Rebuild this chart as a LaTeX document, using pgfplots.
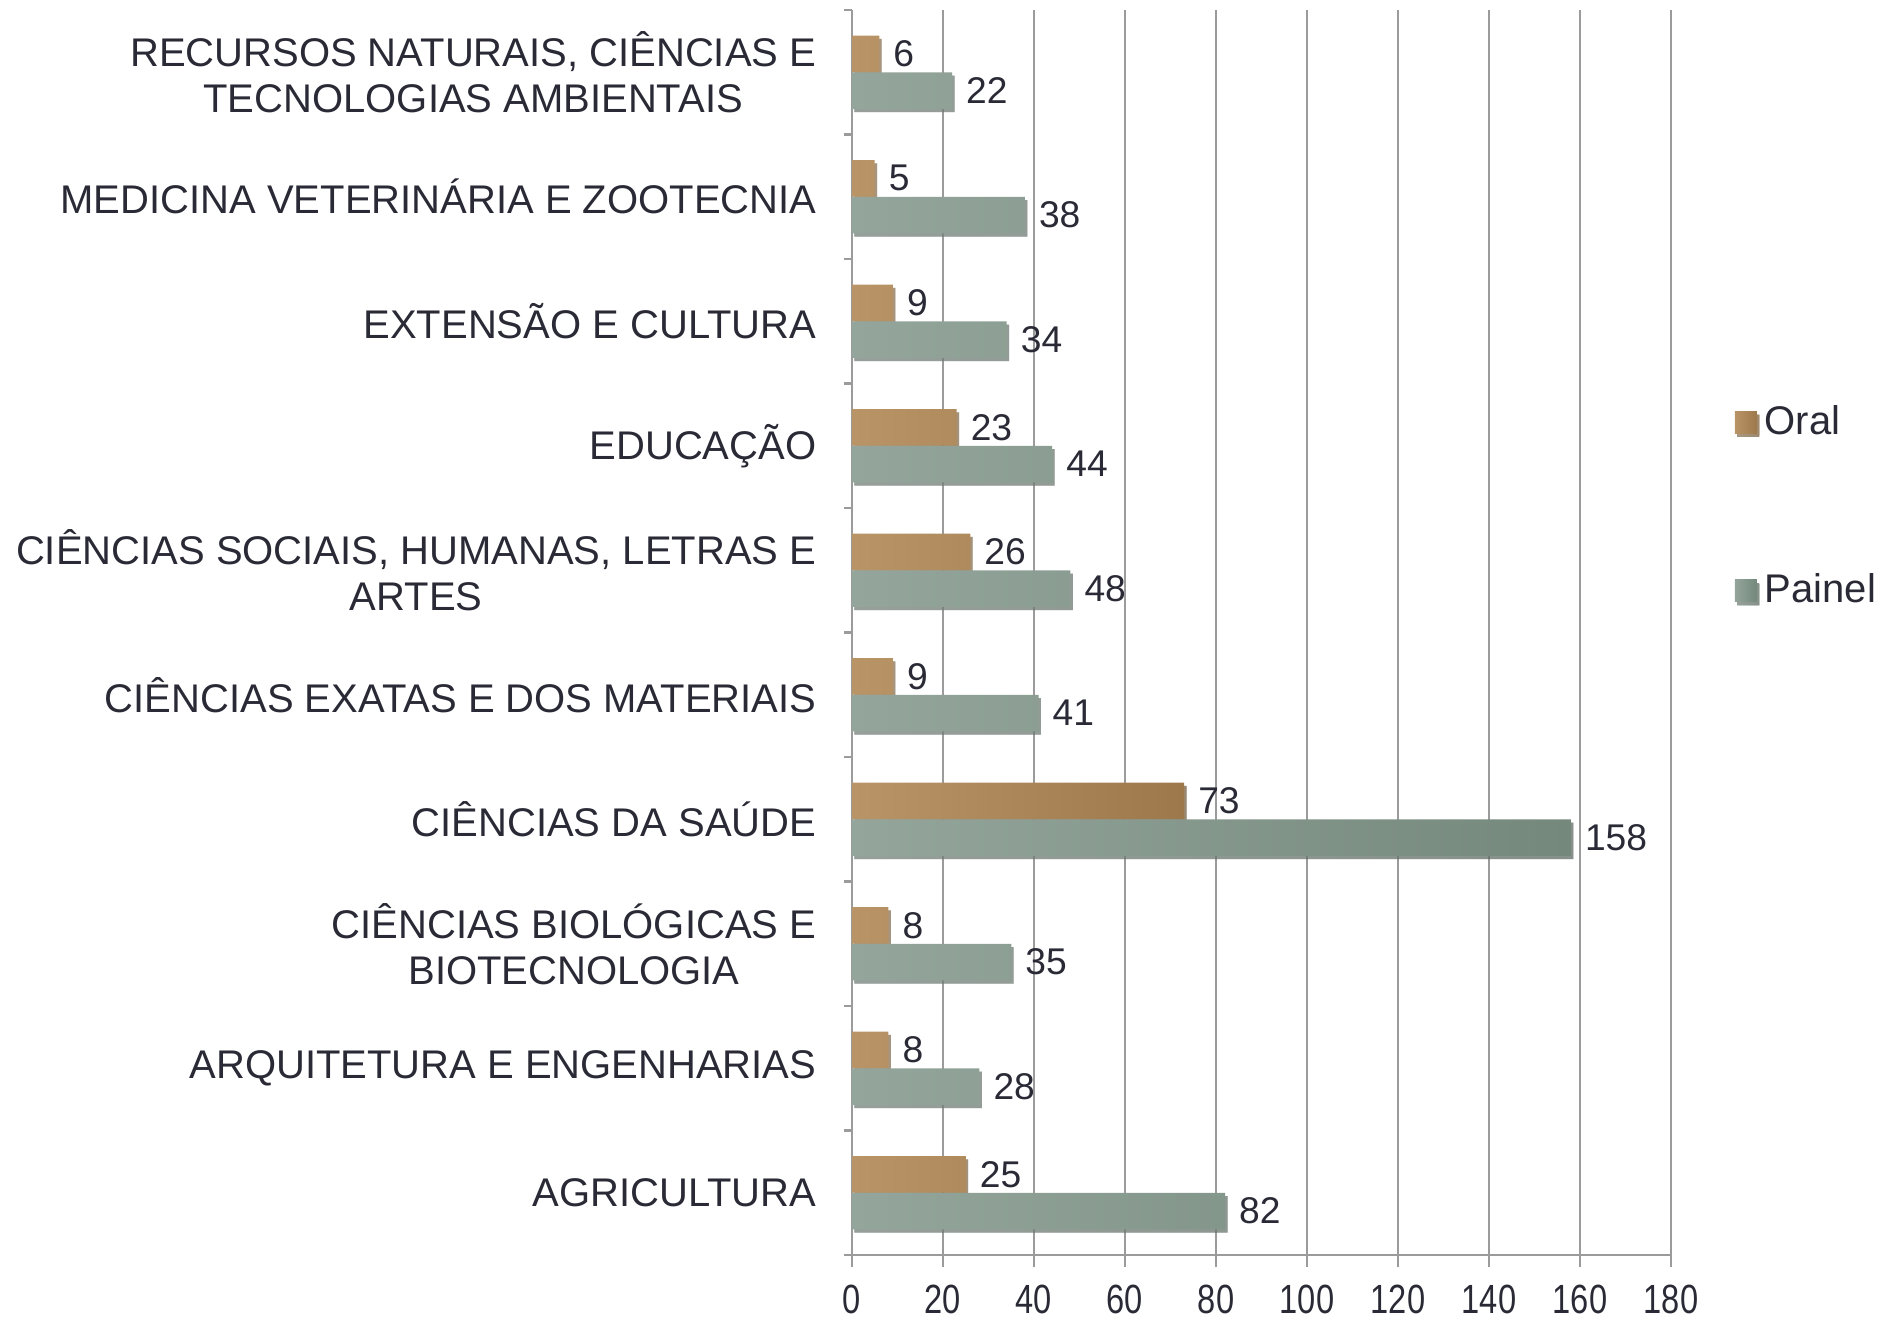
\documentclass[border=0pt]{standalone}
\usepackage{fontspec}
\setmainfont{Liberation Sans}
\newfontfamily\narrowfont[FakeStretch=0.8]{Liberation Sans}
\usepackage{pgfplots}
\pgfplotsset{compat=1.18}
\usetikzlibrary{shadows}
\definecolor{OralL}{RGB}{184,148,102}
\definecolor{OralR}{RGB}{156,120,74}
\definecolor{PainelL}{RGB}{148,166,155}
\definecolor{PainelR}{RGB}{117,136,124}
\definecolor{TextCol}{RGB}{42,42,54}
\definecolor{GridCol}{RGB}{155,155,155}

\begin{document}
\begin{tikzpicture}
\begin{axis}[
  scale only axis, width=204.75pt, height=311.25pt,
  /pgf/number format/assume math mode=true,
  xbar, xmin=0, xmax=180, ymin=-0.5, ymax=9.5,
  axis lines*=left,
  axis line style={GridCol, line width=0.6pt},
  xtick={0,20,...,180},
  xmajorgrids, grid style={GridCol, line width=0.6pt},
  tick align=outside,
  major x tick style={GridCol, line width=0.6pt},
  major tick length=3pt,
  ytick={0,...,9},
  yticklabels={
    AGRICULTURA,
    ARQUITETURA E ENGENHARIAS,
    {CIÊNCIAS BIOLÓGICAS E\\BIOTECNOLOGIA},
    CIÊNCIAS DA SAÚDE,
    CIÊNCIAS EXATAS E DOS MATERIAIS,
    {CIÊNCIAS SOCIAIS, HUMANAS, LETRAS E\\ARTES},
    EDUCAÇÃO,
    EXTENSÃO E CULTURA,
    MEDICINA VETERINÁRIA E ZOOTECNIA,
    {RECURSOS NATURAIS, CIÊNCIAS E\\TECNOLOGIAS AMBIENTAIS}},
  major y tick style={draw=none},
  minor ytick={-0.5,0.5,...,9.5},
  minor y tick style={GridCol, line width=0.6pt},
  minor tick length=2pt,
  yticklabel style={font=\fontsize{10}{11.5}\selectfont, color=TextCol, align=center, anchor=east, xshift=-2.4pt},
  xticklabel style={font=\narrowfont\fontsize{10.2}{12}\selectfont, color=TextCol, yshift=-1pt},
  bar width=9.15pt,
  nodes near coords,
  every node near coord/.append style={font=\fontsize{9.3}{11}\selectfont, color=TextCol},
  legend style={at={(axis description cs:1.077,0.601)}, anchor=west, draw=none, fill=none,
    inner sep=0pt, row sep=29.3pt, font=\fontsize{10}{12}\selectfont, text=TextCol},
  legend cell align=left,
  legend image code/.code={\path[#1] (0pt,-2.75pt) rectangle (5.5pt,2.75pt);},
]
\addplot[bar shift=4.6pt, draw=none, left color=OralL, right color=OralR,
  drop shadow={shadow xshift=0.6pt, shadow yshift=-0.8pt, opacity=0.5, fill=black!80}]
  coordinates {(25,0) (8,1) (8,2) (73,3) (9,4) (26,5) (23,6) (9,7) (5,8) (6,9)};
\addplot[bar shift=-4.6pt, draw=none, left color=PainelL, right color=PainelR,
  drop shadow={shadow xshift=0.6pt, shadow yshift=-0.8pt, opacity=0.5, fill=black!80}]
  coordinates {(82,0) (28,1) (35,2) (158,3) (41,4) (48,5) (44,6) (34,7) (38,8) (22,9)};
\legend{Oral, Painel}
\coordinate (sw) at (rel axis cs:0,0);
\end{axis}
\pgfresetboundingbox
\path[use as bounding box] ([shift={(-213pt,-16.5pt)}]sw) rectangle ([shift={(257pt,313.75pt)}]sw);
\end{tikzpicture}
\end{document}
